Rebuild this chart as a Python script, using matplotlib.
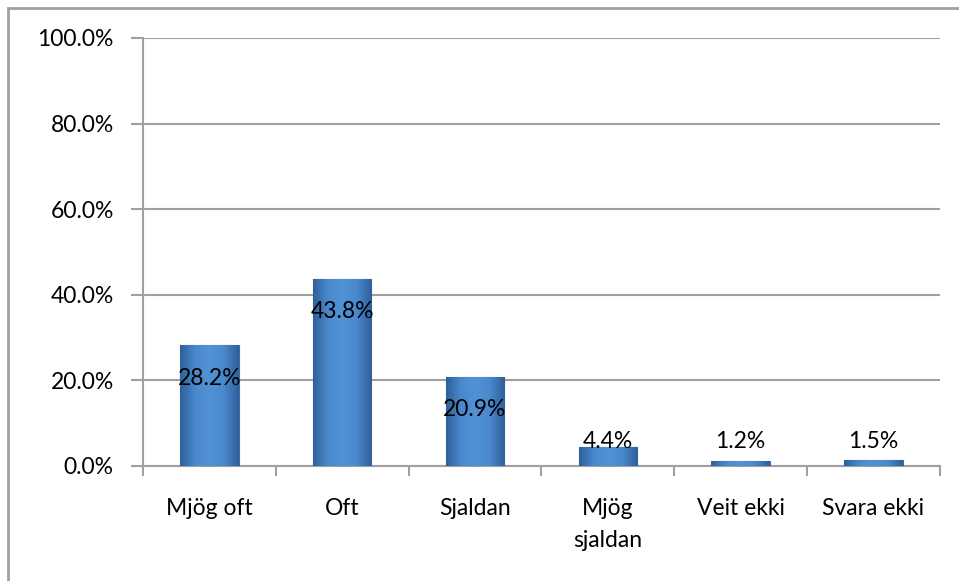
import matplotlib
matplotlib.use("Agg")
import numpy as np
import matplotlib.pyplot as plt
from matplotlib.patches import Rectangle
from matplotlib.colors import LinearSegmentedColormap

categories = ["Mjög oft", "Oft", "Sjaldan", "Mjög\nsjaldan", "Veit ekki", "Svara ekki"]
values = [28.2, 43.8, 20.9, 4.4, 1.2, 1.5]
yticks = [0, 20, 40, 60, 80, 100]

plt.rcParams['font.family'] = ['Lato', 'DejaVu Sans']
fs = 16.5

fig = plt.figure(figsize=(9.59, 5.81), dpi=100)
ax = fig.add_axes([0.149, 0.198, 0.831, 0.7366])

grid_col = "#a0a0a0"
x = list(range(len(categories)))
bars = ax.bar(x, values, width=0.44, color="#4a86c8", edgecolor="#3a6ea5",
              linewidth=0.8, zorder=3)

# bevel-like shading: darker at the sides, lighter in the middle
shade = LinearSegmentedColormap.from_list(
    "bev", ["#30609a", "#4a88cc", "#5192d6", "#4a88cc", "#30609a"])
grad = np.linspace(0, 1, 64).reshape(1, -1)
for b in bars:
    bx, by = b.get_x(), b.get_y()
    bw, bh = b.get_width(), b.get_height()
    im = ax.imshow(grad, cmap=shade, aspect="auto", zorder=3.5,
                   extent=(bx, bx + bw, by, by + bh), interpolation="bicubic")
    im.set_clip_path(b)

# data labels, placed a bit below the bar top like the original
for xi, v in zip(x, values):
    ax.text(xi, max(v - 7.7, 5.8), f"{v:.1f}%", ha="center", va="center",
            fontsize=fs, color="black", zorder=4)

ax.set_xlim(-0.5, len(categories) - 0.5)
ax.set_ylim(0, 100)
ax.set_yticks(yticks)
ax.set_yticklabels([f"{t:.1f}%" for t in yticks], fontsize=fs)
ax.yaxis.grid(True, color=grid_col, linewidth=1.5, zorder=0)

# category labels, with ticks between categories
ax.set_xticks(x)
ax.set_xticklabels(categories, fontsize=fs, linespacing=1.65)
ax.tick_params(axis="x", length=0, pad=23)
ax.set_xticks([i + 0.5 for i in range(-1, len(categories))], minor=True)
ax.tick_params(axis="x", which="minor", length=7, width=1.5, color=grid_col)
ax.tick_params(axis="y", length=9, width=1.5, color=grid_col, pad=12)

for side in ["top", "right"]:
    ax.spines[side].set_visible(False)
for side in ["left", "bottom"]:
    ax.spines[side].set_color(grid_col)
    ax.spines[side].set_linewidth(1.5)

# outer chart border
fig.patches.append(Rectangle((8 / 959, -0.05), 1.1, 1 - 8 / 581 + 0.05,
                             transform=fig.transFigure, fill=False,
                             edgecolor=grid_col, linewidth=2))

fig.savefig("out.png", dpi=100)
